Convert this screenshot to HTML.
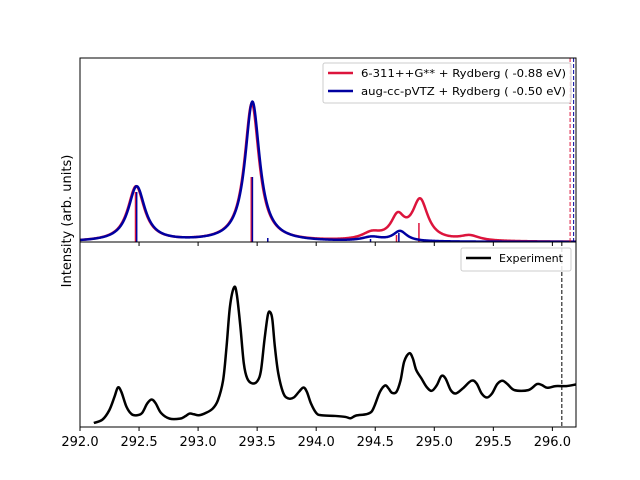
<!DOCTYPE html>
<html><head><meta charset="utf-8"><style>
html,body{margin:0;padding:0;background:#fff;}
svg{display:block;font-family:"DejaVu Sans","Liberation Sans",sans-serif;}
</style></head><body>
<svg id="chart" width="640" height="480" viewBox="0 0 640 480">
<rect width="640" height="480" fill="#fff"/>
<g id="topPanel"></g>
<g id="bottomPanel"></g>
<text x="71" y="221" font-size="13" text-anchor="middle" transform="rotate(-90 71 221)">Intensity (arb. units)</text>
</svg>
<script>
// x ticks
const xTicks = [292.0, 292.5, 293.0, 293.5, 294.0, 294.5, 295.0, 295.5, 296.0];
// theory stick spectra (energy, intensity)
const redStickE = [292.47, 293.45, 294.68, 294.87];
const redStickI = [50, 65, 7, 19];
const blueStickE = [292.48, 293.46, 293.59, 294.46, 294.70];
const blueStickI = [50, 65, 4, 3, 9];
// broadened curves: components (center, amplitude, hwhm)
const redCenters = [292.475, 293.455, 294.47, 294.69, 294.88, 295.3];
const redAmps = [55, 138, 7, 22, 40, 5];
const redWidths = [0.085, 0.075, 0.1, 0.07, 0.08, 0.1];
const blueCenters = [292.48, 293.46, 294.47, 294.71];
const blueAmps = [55, 140, 4, 10];
const blueWidths = [0.085, 0.075, 0.1, 0.07];
// reference energy markers
const redEdge = 296.15;
const blueEdge = 296.18;
const expEdge = 296.08;
// experiment
const expE = [292.117,292.19,292.248,292.292,292.321,292.35,292.394,292.438,292.482,292.526,292.569,292.607,292.642,292.686,292.759,292.847,292.891,292.928,292.964,293.007,293.066,293.124,293.168,293.212,293.241,293.27,293.305,293.328,293.358,293.387,293.416,293.46,293.504,293.533,293.562,293.591,293.612,293.629,293.65,293.679,293.723,293.766,293.81,293.854,293.892,293.921,293.956,294.0,294.044,294.161,294.248,294.292,294.336,294.423,294.467,294.496,294.54,294.584,294.613,294.642,294.68,294.715,294.745,294.788,294.818,294.847,294.891,294.934,294.978,295.022,295.06,295.095,295.139,295.182,295.241,295.314,295.358,295.401,295.445,295.489,295.533,295.577,295.62,295.679,295.796,295.869,295.912,295.956,296.029,296.117,296.199];
const expI = [12,22,50,90,118,105,60,38,35,42,70,82,70,42,25,25,32,40,38,35,42,55,80,140,240,360,417,395,300,190,145,130,138,170,260,335,342,320,240,160,100,85,88,105,118,105,70,42,35,33,30,26,34,38,45,65,105,124,115,102,105,140,195,220,205,170,145,120,108,125,152,145,110,100,115,138,130,100,88,100,128,138,128,110,110,128,125,117,122,122,127];

const NS='http://www.w3.org/2000/svg';
const L=80,R=576,T=58,M=242,B=427;
const xmin=292.0,xmax=296.2;
const X=e=>L+(e-xmin)/(xmax-xmin)*(R-L);
const Ytop=v=>M-v*(M-T)/184;
const Ybot=v=>B-v*(B-M)/552;
function mk(tag,attrs,parent){const el=document.createElementNS(NS,tag);for(const k in attrs)el.setAttribute(k,attrs[k]);parent.appendChild(el);return el;}
const topG=document.getElementById('topPanel'),botG=document.getElementById('bottomPanel');
const clipD=mk('defs',{},topG);
const c1=mk('clipPath',{id:'ct'},clipD);mk('rect',{x:L,y:T,width:R-L,height:M-T},c1);
const c2=mk('clipPath',{id:'cb'},clipD);mk('rect',{x:L,y:M,width:R-L,height:B-M},c2);
const gt=mk('g',{'clip-path':'url(#ct)'},topG);
const gb=mk('g',{'clip-path':'url(#cb)'},botG);

function curve(cs,as,ws,e){let s=0;for(let i=0;i<cs.length;i++){const d=e-cs[i];s+=as[i]*ws[i]*ws[i]/(d*d+ws[i]*ws[i]);}return s;}
function curvePath(cs,as,ws){let d='';for(let i=0;i<=800;i++){const e=xmin+(xmax-xmin)*i/800;d+=(i?'L':'M')+X(e).toFixed(2)+','+Ytop(curve(cs,as,ws,e)).toFixed(2);}return d;}

for(let i=0;i<redStickE.length;i++){
  const s=mk('line',{x1:X(redStickE[i]),x2:X(redStickE[i]),y1:M,y2:Ytop(redStickI[i]),stroke:'#dc143c','stroke-width':1.5},gt);
  
  
}
for(let i=0;i<blueStickE.length;i++){
  const s=mk('line',{x1:X(blueStickE[i]),x2:X(blueStickE[i]),y1:M,y2:Ytop(blueStickI[i]),stroke:'#0000a0','stroke-width':1.5},gt);
  
  
}
const rc=mk('path',{d:curvePath(redCenters,redAmps,redWidths),fill:'none',stroke:'#dc143c','stroke-width':2.5,'stroke-linejoin':'round'},gt);


const bc=mk('path',{d:curvePath(blueCenters,blueAmps,blueWidths),fill:'none',stroke:'#0000a0','stroke-width':2.5,'stroke-linejoin':'round'},gt);


const rv=mk('line',{x1:X(redEdge),x2:X(redEdge),y1:T,y2:M,stroke:'#dc143c','stroke-width':1,'stroke-dasharray':'4,2'},gt);


const bv=mk('line',{x1:X(blueEdge),x2:X(blueEdge),y1:T,y2:M,stroke:'#0000a0','stroke-width':1,'stroke-dasharray':'4,2'},gt);



// smooth experiment path (Catmull-Rom)
const pts=expE.map((e,i)=>[X(e),Ybot(expI[i])]);
let ed='M'+pts[0][0].toFixed(2)+','+pts[0][1].toFixed(2);
for(let i=0;i<pts.length-1;i++){
  const p0=pts[Math.max(0,i-1)],p1=pts[i],p2=pts[i+1],p3=pts[Math.min(pts.length-1,i+2)];
  const c1x=p1[0]+(p2[0]-p0[0])/6,c1y=p1[1]+(p2[1]-p0[1])/6;
  const c2x=p2[0]-(p3[0]-p1[0])/6,c2y=p2[1]-(p3[1]-p1[1])/6;
  ed+='C'+c1x.toFixed(2)+','+c1y.toFixed(2)+' '+c2x.toFixed(2)+','+c2y.toFixed(2)+' '+p2[0].toFixed(2)+','+p2[1].toFixed(2);
}
const ep=mk('path',{d:ed,fill:'none',stroke:'#000','stroke-width':2.5,'stroke-linejoin':'round'},gb);


const ev=mk('line',{x1:X(expEdge),x2:X(expEdge),y1:M,y2:B,stroke:'#000','stroke-width':1,'stroke-dasharray':'4,2'},gb);



const f1=mk('rect',{x:L,y:T,width:R-L,height:M-T,fill:'none',stroke:'#000','stroke-width':1},topG);


const f2=mk('rect',{x:L,y:M,width:R-L,height:B-M,fill:'none',stroke:'#000','stroke-width':1},botG);



for(const t of xTicks){
  const x=X(t);
  const tk=mk('line',{x1:x,x2:x,y1:B,y2:B+4,stroke:'#000','stroke-width':1},botG);
  
  
  const tk2=mk('line',{x1:x,x2:x,y1:M,y2:M+4,stroke:'#000','stroke-width':1},topG);
  
  
  const lb=mk('text',{x:x,y:B+19,'font-size':13,'text-anchor':'middle'},botG);
  lb.textContent=t.toFixed(1);
  
  
}

function legend(parent,x,y,w,h,items){
  const g=mk('g',{},parent);
  
  
  mk('rect',{x:x,y:y,width:w,height:h,rx:2,fill:'#fff','fill-opacity':0.85,stroke:'#ccc','stroke-width':1},g);
  items.forEach((it,i)=>{
    const cy=y+10+i*18;
    const ln=mk('line',{x1:x+5,x2:x+30,y1:cy,y2:cy,stroke:it.c,'stroke-width':2.5},g);
    
    
    const tx=mk('text',{x:x+38,y:cy+4,'font-size':10.5,textLength:it.w,lengthAdjust:'spacingAndGlyphs'},g);
    tx.textContent=it.t;
    
    
  });
}
legend(topG,323,63,248,40,[{c:'#dc143c',t:'6-311++G** + Rydberg ( -0.88 eV)',w:205},{c:'#0000a0',t:'aug-cc-pVTZ + Rydberg ( -0.50 eV)',w:205}]);
legend(botG,461,248,110,23,[{c:'#000',t:'Experiment',w:64}]);
</script>
</body></html>
